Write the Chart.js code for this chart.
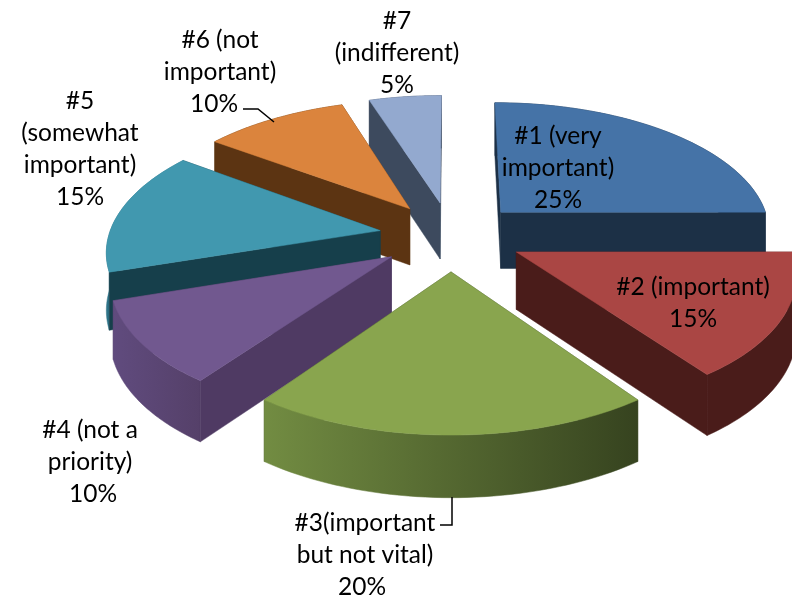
<!DOCTYPE html>
<html>
<head>
<meta charset="utf-8">
<script src="https://cdn.jsdelivr.net/npm/chart.js@4"></script>
<style>
  html, body { margin: 0; padding: 0; background: #fff; }
  #wrap { width: 792px; height: 597px; }
</style>
</head>
<body>
<div id="wrap"><canvas id="myChart"></canvas></div>
<script>
const categories = ["#1 (very important)", "#2 (important)", "#3(important but not vital)", "#4 (not a priority)", "#5 (somewhat important)", "#6 (not important)", "#7 (indifferent)"];
const percents = [25, 15, 20, 10, 15, 10, 5];
const labelLines = [["#1 (very", "important)"], ["#2 (important)"], ["#3(important", "but not vital)"], ["#4 (not a", "priority)"], ["#5", "(somewhat", "important)"], ["#6 (not", "important)"], ["#7", "(indifferent)"]];

const topColors = ["#4573a7", "#aa4644", "#89a54e", "#71588f", "#4198af", "#db843d", "#93a9cf"];
const sideColors = ["#1c3046", "#4a1c1a", "#3a4a22", "#4f3a63", "#163f4b", "#5c3412", "#3d4a5e"];
const rimLeft = ["#1c3046", "#4a1c1a", "#728c42", "#604b7e", "#2f7488", "#5c3412", "#3d4a5e"];
const rimRight = ["#1c3046", "#4a1c1a", "#36431f", "#554069", "#2f7488", "#5c3412", "#3d4a5e"];

// label anchor: centre x, first baseline y, and x of the percent line
const labelX = [558, 693, 365, 90, 80, 220, 397];
const labelY = [144, 295, 531, 438, 109, 48, 29];
const percentX = [558, 693, 362, 93, 80, 214, 397];

// camera used to tilt the pie
const camX = 451, camY = 236, tilt = 0.48, persp = 0.0005, zoom = 1.03, wall = 57;

function project(dx, dy, down) {
  const u = dx * zoom, v = dy * zoom;
  const p = 1 / (1 - persp * v);
  return [camX + u * p, camY + v * tilt * p + (down ? wall * Math.sqrt(p) : 0)];
}

function fillPoly(ctx, pts, color) {
  ctx.beginPath();
  pts.forEach((q, i) => (i ? ctx.lineTo(q[0], q[1]) : ctx.moveTo(q[0], q[1])));
  ctx.closePath();
  ctx.fillStyle = color;
  ctx.fill();
  ctx.strokeStyle = color;
  ctx.lineWidth = 0.5;
  ctx.stroke();
}

const tiltedPie = {
  id: "tiltedPie",
  beforeDatasetsDraw(chart) {
    const ctx = chart.ctx;
    const arcs = chart.getDatasetMeta(0).data.map((arc, i) => {
      const mid = (arc.startAngle + arc.endAngle) / 2;
      const off = arc.options.offset;
      return { i, arc, mid, ox: Math.cos(mid) * off, oy: Math.sin(mid) * off };
    });
    arcs.sort((a, b) => a.oy - b.oy);

    arcs.forEach(({ i, arc, ox, oy }) => {
      const r = arc.outerRadius;
      const rim = [];
      for (let s = 0; s <= 48; s++) {
        const a = arc.startAngle + (arc.endAngle - arc.startAngle) * s / 48;
        rim.push([ox + Math.cos(a) * r, oy + Math.sin(a) * r]);
      }
      const top = rim.map(q => project(q[0], q[1], false));
      const low = rim.map(q => project(q[0], q[1], true));
      const apexTop = project(ox, oy, false);
      const apexLow = project(ox, oy, true);

      const startWall = [apexTop, top[0], low[0], apexLow];
      const endWall = [apexTop, top[48], low[48], apexLow];
      const startFront = -Math.cos(arc.startAngle) > 0;
      const endFront = Math.cos(arc.endAngle) > 0;

      if (!startFront) fillPoly(ctx, startWall, sideColors[i]);
      if (!endFront) fillPoly(ctx, endWall, sideColors[i]);

      const grad = ctx.createLinearGradient(top[0][0], 0, top[48][0], 0);
      const leftFirst = top[0][0] < top[48][0];
      grad.addColorStop(0, leftFirst ? rimLeft[i] : rimRight[i]);
      grad.addColorStop(1, leftFirst ? rimRight[i] : rimLeft[i]);
      fillPoly(ctx, top.concat(low.slice().reverse()), grad);

      if (startFront) fillPoly(ctx, startWall, sideColors[i]);
      if (endFront) fillPoly(ctx, endWall, sideColors[i]);

      fillPoly(ctx, [apexTop].concat(top), topColors[i]);
    });
    return false;
  },
  afterDraw(chart) {
    const ctx = chart.ctx;
    ctx.save();
    ctx.font = "24.5px Lato";
    ctx.fillStyle = "#000";
    ctx.textAlign = "center";
    ctx.textBaseline = "alphabetic";
    labelLines.forEach((lines, i) => {
      lines.forEach((t, n) => ctx.fillText(t, labelX[i], labelY[i] + n * 32));
      ctx.fillText(percents[i] + "%", percentX[i], labelY[i] + lines.length * 32);
    });
    // leader lines for #6 and #3
    ctx.strokeStyle = "#000";
    ctx.lineWidth = 1.5;
    ctx.beginPath();
    ctx.moveTo(243, 109); ctx.lineTo(258, 109); ctx.lineTo(274, 122);
    ctx.moveTo(440, 525); ctx.lineTo(452, 525); ctx.lineTo(452, 497);
    ctx.stroke();
    ctx.restore();
  }
};

new Chart(document.getElementById("myChart"), {
  type: "pie",
  data: {
    labels: categories,
    datasets: [{ data: percents, backgroundColor: topColors, borderWidth: 0, offset: 70 }],
  },
  options: {
    responsive: true,
    maintainAspectRatio: false,
    animation: false,
    plugins: { legend: { display: false }, tooltip: { enabled: false } },
  },
  plugins: [tiltedPie],
});
</script>
</body>
</html>
